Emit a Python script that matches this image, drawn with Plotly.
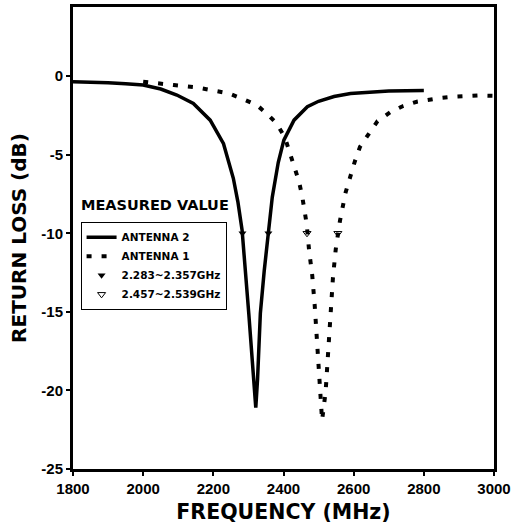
import plotly.graph_objects as go

# Antenna 2 (solid) measured return loss
ant2_freq = [1800, 1850, 1900, 1950, 2000, 2050, 2096, 2143, 2191, 2229, 2257, 2270, 2282,
             2301, 2315, 2321, 2326, 2334, 2345, 2357, 2368, 2385, 2401, 2430, 2468, 2500,
             2544, 2591, 2650, 2700, 2750, 2800]
ant2_db = [-0.36, -0.38, -0.42, -0.48, -0.57, -0.82, -1.2, -1.74, -2.8, -4.3, -6.5, -8.0, -9.8,
           -15.1, -19.3, -21.1, -19.3, -15.1, -12.4, -10.0, -7.7, -5.5, -4.07, -2.8, -1.95, -1.6,
           -1.3, -1.1, -1.0, -0.95, -0.93, -0.92]

# Antenna 1 (dashed) measured return loss
ant1_freq = [2000, 2040, 2087, 2153, 2201, 2244, 2287, 2324, 2353, 2380, 2404, 2418, 2432,
             2444, 2453, 2460, 2466, 2473, 2482, 2489, 2494, 2501, 2504, 2510, 2520, 2525,
             2530, 2534, 2541, 2549, 2561, 2577, 2590, 2603, 2618, 2641, 2668, 2704, 2741,
             2780, 2815, 2850, 2882, 2915, 2953, 3000]
ant1_db = [-0.35, -0.47, -0.57, -0.72, -0.89, -1.1, -1.48, -1.84, -2.4, -3.0, -3.9, -4.9, -5.8,
           -6.7, -7.6, -8.5, -9.4, -11.1, -12.7, -14.6, -16.4, -18.2, -20.0, -21.9, -20.1, -18.3,
           -16.5, -14.7, -12.8, -11.0, -9.2, -7.4, -6.4, -5.45, -4.5, -3.7, -2.86, -2.3, -1.9,
           -1.63, -1.48, -1.38, -1.31, -1.25, -1.23, -1.25]

# -10 dB bandwidth markers
band2_freq = [2283, 2357]
band2_db = [-10, -10]
band1_freq = [2467, 2555]
band1_db = [-10, -10]

x_ticks = [1800, 2000, 2200, 2400, 2600, 2800, 3000]
y_ticks = [0, -5, -10, -15, -20, -25]

TITLE_FONT = "DejaVu Sans"
TICK_FONT = "Liberation Sans"

fig = go.Figure()
fig.add_trace(go.Scatter(x=ant2_freq, y=ant2_db, mode="lines", name="ANTENNA 2",
                         line=dict(color="black", width=3.5)))
fig.add_trace(go.Scatter(x=ant1_freq, y=ant1_db, mode="lines", name="ANTENNA 1",
                         line=dict(color="black", width=4, dash="5px,10px")))
fig.add_trace(go.Scatter(x=band2_freq, y=band2_db, mode="markers", name="2.283~2.357GHz",
                         marker=dict(symbol="triangle-down", size=7, color="black")))
fig.add_trace(go.Scatter(x=band1_freq, y=band1_db, mode="markers", name="2.457~2.539GHz",
                         marker=dict(symbol="triangle-down-open", size=7, color="black",
                                     line=dict(width=1))))

fig.add_annotation(text="MEASURED VALUE", xref="paper", yref="paper", x=0.015, y=0.572,
                   xanchor="left", yanchor="middle", showarrow=False,
                   font=dict(family=TITLE_FONT, size=14.5, color="black", weight="bold"))

fig.update_layout(
    width=511, height=524,
    margin=dict(l=73, r=17, t=7, b=55),
    paper_bgcolor="white", plot_bgcolor="white",
    showlegend=True,
    legend=dict(x=0.018, y=0.535, xanchor="left", yanchor="top",
                bgcolor="white", bordercolor="black", borderwidth=1,
                font=dict(family=TITLE_FONT, size=10.5, color="black", weight="bold"),
                tracegroupgap=0),
)
fig.update_xaxes(range=[1800, 3000], tickvals=x_ticks, ticktext=[str(v) for v in x_ticks],
                 automargin=False,
                 showgrid=False, zeroline=False, showline=True, linecolor="black", linewidth=3,
                 mirror=True, ticks="outside", ticklen=4, tickwidth=2, tickcolor="black",
                 tickfont=dict(family=TICK_FONT, size=15, color="black", weight="bold"),
                 title=dict(text="FREQUENCY (MHz)", standoff=14,
                            font=dict(family=TITLE_FONT, size=20.5, color="black", weight="bold")))
fig.update_yaxes(range=[-25, 4.4], tickvals=y_ticks, ticktext=[str(v) for v in y_ticks],
                 automargin=False,
                 showgrid=False, zeroline=False, showline=True, linecolor="black", linewidth=3,
                 mirror=True, ticks="outside", ticklen=4, tickwidth=2, tickcolor="black",
                 tickfont=dict(family=TICK_FONT, size=15, color="black", weight="bold"),
                 title=dict(text="RETURN LOSS (dB)", standoff=10,
                            font=dict(family=TITLE_FONT, size=20, color="black", weight="bold")))

fig.write_html("out.html", config={"displayModeBar": False},
               post_script="document.body.style.margin='0';document.body.style.overflow='hidden';")
